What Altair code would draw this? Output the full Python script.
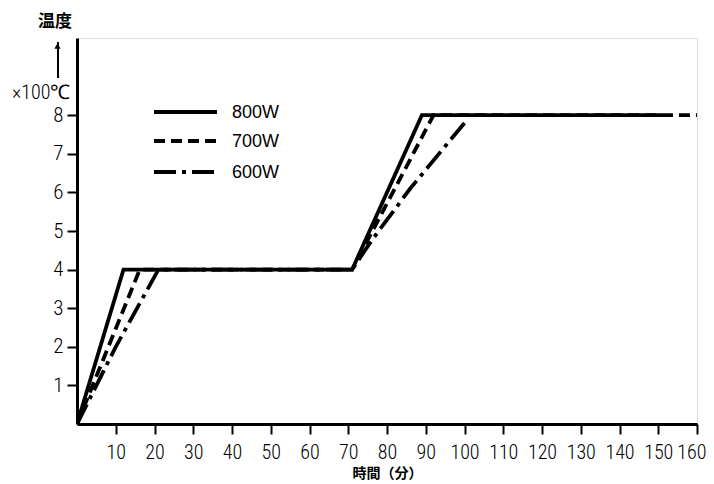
import altair as alt
import pandas as pd

# ---- data ----
series_names = ["800W", "700W", "600W"]
series_dash = [[1, 0], [11, 6], [22, 6, 4, 6]]
x_800 = [0, 12, 71, 89, 151]
y_800 = [0, 4, 4, 8, 8]
x_700 = [0, 16.2, 71, 92, 160]
y_700 = [0, 4, 4, 8, 8]
x_600 = [0, 10, 21, 71, 76, 86, 100]
y_600 = [0, 2, 4, 4, 4.75, 6.1, 7.8]
x_ticks = [10, 20, 30, 40, 50, 60, 70, 80, 90, 100, 110, 120, 130, 140, 150, 160]
y_ticks = [1, 2, 3, 4, 5, 6, 7, 8]

rows = []
for name, xs, ys in [("600W", x_600, y_600), ("700W", x_700, y_700), ("800W", x_800, y_800)]:
    for i, (a, b) in enumerate(zip(xs, ys)):
        rows.append({"series": name, "t": a, "temp": b, "i": i})
df = pd.DataFrame(rows)

NUM_FONT = "Liberation Sans Narrow, Roboto Condensed, Arial Narrow, Liberation Sans, sans-serif"
LEG_FONT = "Liberation Sans, Arial, sans-serif"
CJK_FONT = "Noto Sans CJK JP"

x_scale = alt.Scale(domain=[0, 160], nice=False, zero=True)
y_scale = alt.Scale(domain=[0, 10], nice=False)

lines = alt.Chart(df).mark_line(strokeWidth=3.8, color="black", strokeCap="butt", strokeJoin="miter", clip=True).encode(
    x=alt.X("t:Q", scale=x_scale,
            axis=alt.Axis(values=x_ticks, title="時間（分）", grid=False, tickSize=10, tickWidth=2,
                          domainWidth=3, domainColor="black", tickColor="black",
                          labelFont=NUM_FONT, labelFontSize=20, labelFontWeight=300, labelColor="black",
                          labelPadding=8, labelOverlap=False,
                          titleFont=CJK_FONT, titleFontSize=14, titleFontWeight="bold", titleColor="black",
                          titlePadding=4, labelFlush=1, labelFlushOffset=9)),
    y=alt.Y("temp:Q", scale=y_scale,
            axis=alt.Axis(values=y_ticks, title=None, grid=False, tickSize=10, tickWidth=2,
                          domainWidth=3, domainColor="black", tickColor="black",
                          labelFont=NUM_FONT, labelFontSize=21, labelFontWeight=300, labelColor="black",
                          labelPadding=4, labelOverlap=False, labelFlush=False)),
    strokeDash=alt.StrokeDash("series:N", scale=alt.Scale(domain=series_names, range=series_dash), legend=None),
    order="i:Q",
)

# ---- legend drawn inside the plot (pixel placement of the key only) ----
legend_rows_y = [74, 103, 134]
legend_layers = []
for name, dash, ly in zip(series_names, series_dash, legend_rows_y):
    kdf = pd.DataFrame({"series": [name]})
    legend_layers.append(
        alt.Chart(kdf).mark_rule(strokeWidth=3.8, color="black", strokeDash=dash, strokeCap="butt").encode(
            x=alt.value(77), x2=alt.value(140), y=alt.value(ly)))
    legend_layers.append(
        alt.Chart(kdf).mark_text(font=LEG_FONT, fontSize=18, align="left", baseline="middle", color="black").encode(
            x=alt.value(155), y=alt.value(ly + 1), text="series:N"))

annot_df = pd.DataFrame({"k": [0]})
title_txt = alt.Chart(annot_df).mark_text(text="温度", font=CJK_FONT, fontSize=17, fontWeight="bold",
                                          align="center", baseline="middle", color="black").encode(
    x=alt.value(-22), y=alt.value(-16))
unit_txt = alt.Chart(annot_df).mark_text(text="×100℃", font=NUM_FONT, fontSize=20, fontWeight=300,
                                         align="left", baseline="middle", color="black").encode(
    x=alt.value(-65), y=alt.value(55))
arrow_line = alt.Chart(annot_df).mark_rule(strokeWidth=2, color="black").encode(
    x=alt.value(-19), y=alt.value(4), y2=alt.value(40))
arrow_head = alt.Chart(annot_df).mark_point(shape="triangle-up", filled=True, size=40, color="black", opacity=1).encode(
    x=alt.value(-19.5), y=alt.value(8))

chart = alt.layer(lines, *legend_layers, title_txt, unit_txt, arrow_line, arrow_head).properties(
    width=620, height=386,
    padding={"left": 4, "top": 5, "right": 0, "bottom": 0},
).configure_view(stroke="black", strokeWidth=3).configure(background="white")

chart.save("out.html", embed_options={"renderer": "svg", "actions": False})
